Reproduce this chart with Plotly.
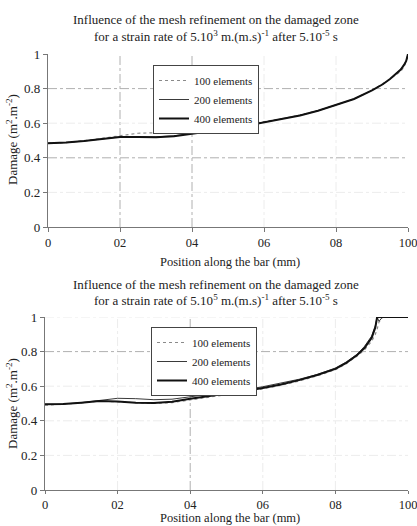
import plotly.graph_objects as go

# ---------------- data ----------------
labels = ["100 elements", "200 elements", "400 elements"]

top_x = [0, 5, 10, 15, 20, 25, 30, 35, 40, 45, 50, 55, 60, 65, 70, 75, 80, 85, 90, 93, 95, 97, 98, 99, 99.5, 100]
top_100 = [0.484, 0.488, 0.498, 0.512, 0.524, 0.542, 0.545, 0.548, 0.556, 0.566, 0.578, 0.592, 0.608, 0.626, 0.647, 0.673, 0.705, 0.740, 0.790, 0.826, 0.855, 0.885, 0.900, 0.930, 0.955, 0.990]
top_200 = [0.484, 0.488, 0.497, 0.511, 0.521, 0.522, 0.521, 0.527, 0.540, 0.554, 0.569, 0.586, 0.605, 0.624, 0.646, 0.672, 0.705, 0.740, 0.790, 0.825, 0.855, 0.890, 0.912, 0.942, 0.962, 1.000]
top_400 = [0.484, 0.488, 0.497, 0.510, 0.520, 0.520, 0.519, 0.525, 0.538, 0.552, 0.568, 0.585, 0.604, 0.623, 0.645, 0.672, 0.705, 0.740, 0.790, 0.825, 0.855, 0.890, 0.910, 0.940, 0.960, 1.000]

bot_x = [0, 5, 10, 15, 20, 25, 30, 35, 40, 45, 50, 55, 60, 65, 70, 75, 80, 83, 86, 88, 90, 91, 91.5, 92, 93, 95, 100]
bot_100 = [0.490, 0.495, 0.503, 0.514, 0.510, 0.503, 0.500, 0.505, 0.520, 0.535, 0.550, 0.567, 0.585, 0.605, 0.630, 0.660, 0.695, 0.730, 0.775, 0.810, 0.860, 0.900, 0.930, 0.970, 1.000, 1.000, 1.000]
bot_200 = [0.495, 0.497, 0.505, 0.518, 0.530, 0.528, 0.522, 0.525, 0.538, 0.552, 0.566, 0.580, 0.597, 0.617, 0.640, 0.668, 0.705, 0.740, 0.785, 0.830, 0.890, 0.950, 1.000, 0.975, 1.000, 1.000, 1.000]
bot_400 = [0.495, 0.497, 0.505, 0.515, 0.512, 0.505, 0.503, 0.510, 0.528, 0.542, 0.556, 0.572, 0.590, 0.610, 0.635, 0.665, 0.700, 0.735, 0.780, 0.820, 0.880, 0.940, 1.000, 1.000, 1.000, 1.000, 1.000]

x_tickvals = [0, 20, 40, 60, 80, 100]
x_ticktext = ["0", "02", "04", "06", "08", "100"]
y_tickvals = [0, 0.2, 0.4, 0.6, 0.8, 1]
y_ticktext = ["0", "0.2", "0.4", "0.6", "0.8", "1"]

title_top = ["Influence of the mesh refinement on the damaged zone",
             "for a strain rate of 5.10<sup>3</sup> m.(m.s)<sup>-1</sup> after 5.10<sup>-5</sup> s"]
title_bot = ["Influence of the mesh refinement on the damaged zone",
             "for a strain rate of 5.10<sup>5</sup> m.(m.s)<sup>-1</sup> after 5.10<sup>-5</sup> s"]
x_title = "Position along the bar (mm)"
y_title = "Damage (m<sup>2</sup>.m<sup>-2</sup>)"

# ---------------- figure ----------------
W, H = 417, 526
FONT = "Liberation Serif"
styles = [dict(color="#8a8a8a", width=1.2, dash="dot"),
          dict(color="#3a3a3a", width=1.0),
          dict(color="#111111", width=2.0)]

fig = go.Figure()
for name, ys, st in zip(labels, [top_100, top_200, top_400], styles):
    fig.add_trace(go.Scatter(x=top_x, y=ys, mode="lines", name=name, line=st,
                             xaxis="x", yaxis="y", legend="legend"))
for name, ys, st in zip(labels, [bot_100, bot_200, bot_400], styles):
    fig.add_trace(go.Scatter(x=bot_x, y=ys, mode="lines", name=name, line=st,
                             xaxis="x2", yaxis="y2", legend="legend2"))

def py(p):
    return 1 - p / H

axis_common = dict(showline=True, linecolor="#777", linewidth=1.2, ticks="outside",
                   tickcolor="#777", showgrid=False, zeroline=False,
                   ticklabeloverflow="allow", automargin=False)
yfont = dict(family=FONT, size=13, color="#222")
xfont = dict(family=FONT, size=12.5, color="#222")

fig.update_layout(
    width=W, height=H, margin=dict(l=0, r=0, t=0, b=0, autoexpand=False),
    paper_bgcolor="white", plot_bgcolor="white",
    font=dict(family=FONT, size=13, color="#222"),
    xaxis=dict(domain=[48 / W, 408 / W], range=[0, 100], anchor="y", ticklen=4,
               tickvals=x_tickvals, ticktext=x_ticktext, tickfont=xfont, **axis_common),
    yaxis=dict(domain=[py(227), py(54)], range=[0, 1], anchor="x", ticklen=4,
               tickvals=y_tickvals, ticktext=y_ticktext, tickfont=yfont, **axis_common),
    xaxis2=dict(domain=[45 / W, 408 / W], range=[0, 100], anchor="y2", ticklen=3,
                tickvals=x_tickvals, ticktext=x_ticktext, tickfont=xfont, **axis_common),
    yaxis2=dict(domain=[py(490), py(317)], range=[0, 1], anchor="x2", ticklen=4,
                tickvals=y_tickvals, ticktext=y_ticktext, tickfont=yfont, **axis_common),
    legend=dict(x=153 / W, y=py(65), xanchor="left", yanchor="top",
                bordercolor="#444", borderwidth=1, bgcolor="white",
                font=dict(family=FONT, size=11, color="#222"),
                itemwidth=30, tracegroupgap=0),
    legend2=dict(x=151 / W, y=py(327), xanchor="left", yanchor="top",
                 bordercolor="#444", borderwidth=1, bgcolor="white",
                 font=dict(family=FONT, size=11, color="#222"),
                 itemwidth=30, tracegroupgap=0),
)

# dash-dot grid lines
def grid(xref, yref, xs_strong, ys_strong, xs_faint, ys_faint):
    for xv, col in [(v, "#b0b0b0") for v in xs_strong] + [(v, "#ececec") for v in xs_faint]:
        fig.add_shape(type="line", xref=xref, yref=yref, x0=xv, x1=xv, y0=0, y1=1,
                      line=dict(color=col, width=1, dash="dashdot"), layer="below")
    for yv, col in [(v, "#b0b0b0") for v in ys_strong] + [(v, "#ececec") for v in ys_faint]:
        fig.add_shape(type="line", xref=xref, yref=yref, x0=0, x1=100, y0=yv, y1=yv,
                      line=dict(color=col, width=1, dash="dashdot"), layer="below")

grid("x", "y", [20, 40], [0.4, 0.8], [60, 80], [0.2, 0.6])
grid("x2", "y2", [40], [0.8], [20, 60, 80], [0.2, 0.4, 0.6, 1.0])

# titles and axis titles
ann = []
for txt, yp in [(title_top[0], 20), (title_top[1], 36), (title_bot[0], 284), (title_bot[1], 300)]:
    ann.append(dict(text=txt, x=216 / W, y=py(yp), xref="paper", yref="paper",
                    showarrow=False, xanchor="center", yanchor="middle",
                    font=dict(family=FONT, size=13, color="#222")))
for yp in [262, 518]:
    ann.append(dict(text=x_title, x=230 / W, y=py(yp), xref="paper", yref="paper",
                    showarrow=False, xanchor="center", yanchor="middle",
                    font=dict(family=FONT, size=12.5, color="#222")))
for yp in [140, 404]:
    ann.append(dict(text=y_title, x=12 / W, y=py(yp), xref="paper", yref="paper",
                    showarrow=False, xanchor="center", yanchor="middle", textangle=-90,
                    font=dict(family=FONT, size=13, color="#222")))
fig.update_layout(annotations=ann)

fig.write_html("out.html")
